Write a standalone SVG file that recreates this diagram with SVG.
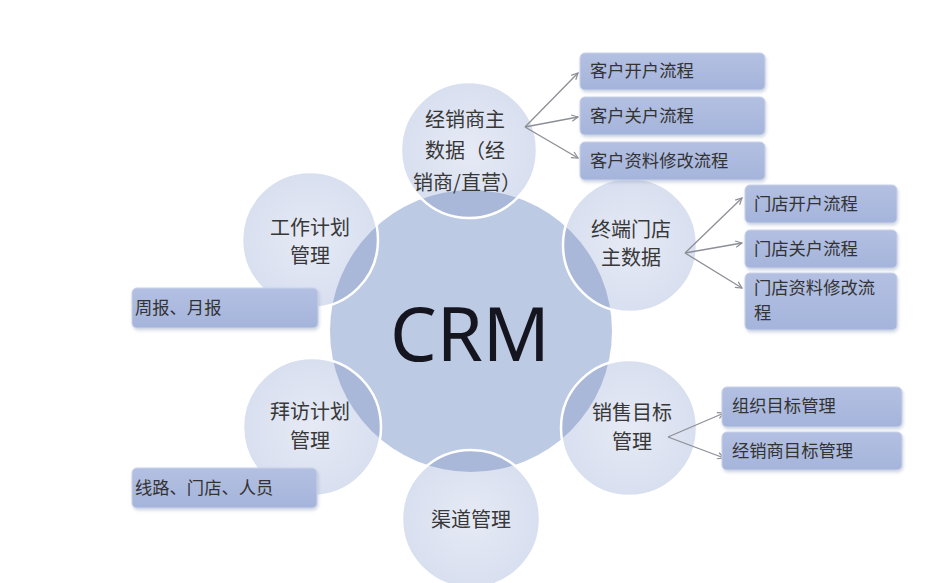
<svg xmlns="http://www.w3.org/2000/svg" width="928" height="583" viewBox="0 0 928 583">
<style>
.sat{fill:url(#satg)}
.ring{fill:none;stroke:#ffffff;stroke-width:2.5}
.ov{fill:#a9b8d8}
.ct{font-family:"Noto Sans CJK SC","Noto Sans",sans-serif;font-size:20px;fill:#383838;text-anchor:middle}
.bx{fill:url(#boxg);stroke:#c9d2e8;stroke-width:1;filter:url(#sh)}
.bt{font-family:"Noto Sans CJK SC","Noto Sans",sans-serif;font-size:17.3px;fill:#333}
.ln{stroke:#8d8f96;stroke-width:1.3;fill:none;marker-end:url(#ah)}
</style>
<defs>
<radialGradient id="satg" cx="0.5" cy="0.5" r="0.5">
<stop offset="0" stop-color="#e6eaf5"/>
<stop offset="1" stop-color="#d8dfef"/>
</radialGradient>
<linearGradient id="boxg" x1="0" y1="0" x2="0" y2="1">
<stop offset="0" stop-color="#b3c0e2"/>
<stop offset="1" stop-color="#a5b4db"/>
</linearGradient>
<filter id="sh" x="-10%" y="-20%" width="120%" height="150%">
<feDropShadow dx="1" dy="2" stdDeviation="1.5" flood-color="#8090b0" flood-opacity="0.35"/>
</filter>
<clipPath id="cc"><circle cx="471" cy="331" r="141"/></clipPath>
<marker id="ah" viewBox="0 0 10 10" refX="9" refY="5" markerWidth="8" markerHeight="8" orient="auto" markerUnits="userSpaceOnUse">
<path d="M1,1 L9,5 L1,9" fill="none" stroke="#8d8f96" stroke-width="1.5"/>
</marker>
</defs>
<rect width="928" height="583" fill="#ffffff"/>

<g id="crm">
<circle cx="471" cy="331" r="141" fill="#bdcae3"/>
</g>

<g id="node-dealer">
<circle class="sat" cx="469" cy="150" r="68"/>
<circle class="ov" cx="469" cy="150" r="68" clip-path="url(#cc)"/>
<circle class="ring" cx="469" cy="150" r="68"/>
<text class="ct" x="465" y="127">经销商主</text>
<text class="ct" x="465" y="158">数据（经</text>
<text class="ct" x="467" y="190">销商/直营）</text>
</g>

<g id="node-store">
<circle class="sat" cx="630" cy="245" r="67"/>
<circle class="ov" cx="630" cy="245" r="67" clip-path="url(#cc)"/>
<circle class="ring" cx="630" cy="245" r="67"/>
<text class="ct" x="631" y="237">终端门店</text>
<text class="ct" x="631" y="265">主数据</text>
</g>

<g id="node-work">
<circle class="sat" cx="310" cy="240" r="68"/>
<circle class="ov" cx="310" cy="240" r="68" clip-path="url(#cc)"/>
<circle class="ring" cx="310" cy="240" r="68"/>
<text class="ct" x="310" y="235">工作计划</text>
<text class="ct" x="310" y="263">管理</text>
</g>

<g id="node-visit">
<circle class="sat" cx="312" cy="427" r="69"/>
<circle class="ov" cx="312" cy="427" r="69" clip-path="url(#cc)"/>
<circle class="ring" cx="312" cy="427" r="69"/>
<text class="ct" x="310" y="419">拜访计划</text>
<text class="ct" x="310" y="448">管理</text>
</g>

<g id="node-sales">
<circle class="sat" cx="629" cy="428" r="68"/>
<circle class="ov" cx="629" cy="428" r="68" clip-path="url(#cc)"/>
<circle class="ring" cx="629" cy="428" r="68"/>
<text class="ct" x="632" y="420">销售目标</text>
<text class="ct" x="632" y="449">管理</text>
</g>

<g id="node-channel">
<circle class="sat" cx="471" cy="519" r="69"/>
<circle class="ov" cx="471" cy="519" r="69" clip-path="url(#cc)"/>
<circle class="ring" cx="471" cy="519" r="69"/>
<text class="ct" x="471" y="527">渠道管理</text>
</g>

<g id="crm-label">
<text x="470" y="361" font-family="Noto Sans, sans-serif" font-size="74" fill="#15151f" text-anchor="middle">CRM</text>
</g>

<g id="connectors">
<line class="ln" x1="525" y1="127" x2="578" y2="73"/>
<line class="ln" x1="525" y1="127" x2="578" y2="117"/>
<line class="ln" x1="525" y1="127" x2="578" y2="158"/>
<line class="ln" x1="685" y1="253" x2="742" y2="198"/>
<line class="ln" x1="685" y1="253" x2="742" y2="243"/>
<line class="ln" x1="685" y1="253" x2="742" y2="288"/>
<line class="ln" x1="668" y1="437" x2="724" y2="413"/>
<line class="ln" x1="668" y1="437" x2="724" y2="458"/>
</g>

<g id="box-kh-open"><rect class="bx" x="580" y="53" width="185" height="37" rx="5"/><text class="bt" x="590" y="77">客户开户流程</text></g>
<g id="box-kh-close"><rect class="bx" x="580" y="97" width="185" height="38" rx="5"/><text class="bt" x="590" y="122">客户关户流程</text></g>
<g id="box-kh-edit"><rect class="bx" x="580" y="142" width="185" height="38" rx="5"/><text class="bt" x="590" y="167">客户资料修改流程</text></g>

<g id="box-md-open"><rect class="bx" x="745" y="185" width="152" height="38" rx="5"/><text class="bt" x="754" y="210">门店开户流程</text></g>
<g id="box-md-close"><rect class="bx" x="745" y="230" width="152" height="38" rx="5"/><text class="bt" x="754" y="255">门店关户流程</text></g>
<g id="box-md-edit"><rect class="bx" x="745" y="273" width="152" height="57" rx="5"/><text class="bt" x="754" y="294">门店资料修改流</text><text class="bt" x="754" y="319">程</text></g>

<g id="box-report"><rect class="bx" x="132" y="288" width="186" height="40" rx="5"/><text class="bt" x="135" y="314">周报、月报</text></g>
<g id="box-route"><rect class="bx" x="132" y="468" width="185" height="40" rx="5"/><text class="bt" x="135" y="494">线路、门店、人员</text></g>

<g id="box-org-target"><rect class="bx" x="722" y="387" width="180" height="40" rx="5"/><text class="bt" x="732" y="412">组织目标管理</text></g>
<g id="box-dealer-target"><rect class="bx" x="722" y="432" width="180" height="38" rx="5"/><text class="bt" x="732" y="457">经销商目标管理</text></g>
</svg>
